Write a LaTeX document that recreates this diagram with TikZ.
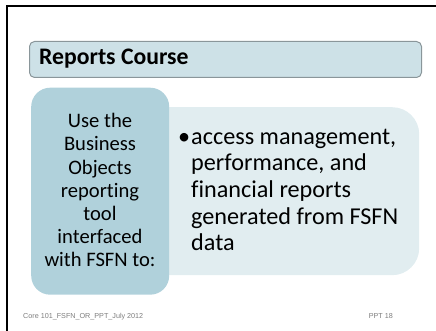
\documentclass[tikz,border=0pt]{standalone}
\usepackage{fontspec}
\setmainfont{Carlito}[Ligatures=NoCommon]
\newfontfamily\footfont{Liberation Sans}
\usepackage{xcolor}
\usepackage{tikz}
\usetikzlibrary{positioning}
\definecolor{titleblue}{RGB}{205, 225, 231}
\definecolor{titleedge}{RGB}{138, 150, 154}
\definecolor{boxteal}{RGB}{176, 209, 219}
\definecolor{boxpale}{RGB}{225, 237, 240}
\definecolor{footgray}{RGB}{125, 125, 125}

\begin{document}
\begin{tikzpicture}[x=1pt, y=-1pt,
    titlebar/.style={fill=titleblue, draw=titleedge, line width=1pt, rounded corners=5pt, inner sep=0pt, anchor=north west},
    panel/.style={rounded corners=19pt, inner sep=0pt, anchor=north west},
    footnote/.style={font=\footfont\fontsize{7.2}{8}\selectfont, text=footgray, inner sep=0pt}]
        \useasboundingbox (0,0) rectangle (436,331);
        % slide frame
        \draw[line width=2pt] (7,331) -- (7,6) -- (436,6);
        % heading
        \node[titlebar, minimum width=392pt, minimum height=36pt] (title) at (29,41) {};
        \node[anchor=base west, inner sep=0pt, font=\bfseries\fontsize{23.7}{28}\selectfont] (heading) at (39,65) {Reports Course};
        % content boxes
        \node[panel, fill=boxpale, rounded corners=27pt, minimum width=280pt, minimum height=168pt] (goals) at (139,107) {};
        \node[panel, fill=boxteal, minimum width=138pt, minimum height=207pt] (intro) at (31,87.5) {};
        \node[anchor=base, inner sep=0pt] (introtext) at (100,127.7) {\fontsize{20.6}{23.2}\selectfont
            \begin{tabular}[t]{@{}c@{}}
                Use the \\ Business \\ Objects \\ reporting \\ tool \\ interfaced \\ with FSFN to:
            \end{tabular}};
        \node[anchor=base west, inner sep=0pt] (goalstext) at (178,144.3) {\fontsize{24.2}{26.6}\selectfont
            \begin{tabular}[t]{@{}p{13pt}@{}l@{}}
                \textbullet & access management, \\
                & performance, and \\
                & financial reports \\
                & generated from FSFN \\
                & data
            \end{tabular}};
        % footer
        \node[footnote, anchor=base west] (course) at (23,318) {Core 101\_FSFN\_OR\_PPT\_July 2012};
        \node[footnote, anchor=base east] (slideno) at (393,318) {PPT 18};
    \end{tikzpicture}
\end{document}
